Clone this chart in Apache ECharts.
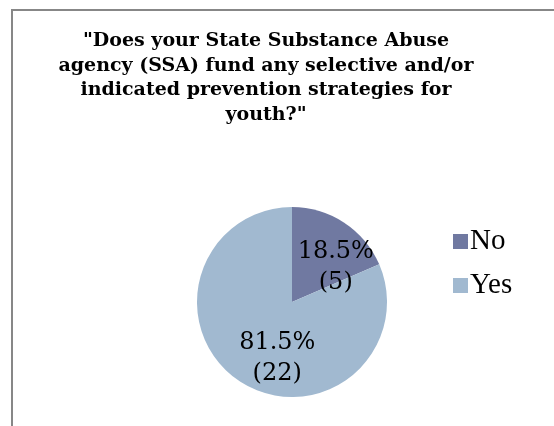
<!DOCTYPE html>
<html><head><meta charset="utf-8">
<script src="https://cdn.jsdelivr.net/npm/echarts@6/dist/echarts.min.js"></script>
<style>html,body{margin:0;padding:0;background:#fff}#c{width:554px;height:426px}</style>
</head><body><div id="c"></div>
<script>
var titleText = '"Does your State Substance Abuse\nagency (SSA) fund any selective and/or\nindicated prevention strategies for\nyouth?"';
var categories = ['No', 'Yes'];
var counts = [5, 22];
var percents = ['18.5%', '81.5%'];
var colors = ['#7079A1', '#A1B9D0'];
var labelOffsets = [[16, 7], [13, 14]];

var chart = echarts.init(document.getElementById('c'), null, {renderer: 'canvas'});
chart.setOption({
  animation: false,
  backgroundColor: '#fff',
  graphic: [{
    type: 'rect', shape: {x: 12, y: 10, width: 600, height: 500},
    style: {fill: 'none', stroke: '#878787', lineWidth: 2}, silent: true
  }],
  title: {
    text: titleText, left: 261, top: 24, textAlign: 'center',
    textStyle: {fontFamily: 'DejaVu Serif', fontWeight: 'bold', fontSize: 19, lineHeight: 24.5, color: '#000'}
  },
  legend: {
    orient: 'vertical', left: 448, top: 222, itemWidth: 15, itemHeight: 15, itemGap: 15,
    icon: 'rect', data: categories,
    textStyle: {fontFamily: 'Liberation Serif', fontSize: 29, lineHeight: 29, color: '#000', padding: [0, 0, 0, -3]}
  },
  series: [{
    type: 'pie', center: [292, 302], radius: 95, startAngle: 90, clockwise: true,
    data: categories.map(function (c, i) {
      return {name: c, value: counts[i], itemStyle: {color: colors[i]},
        label: {offset: labelOffsets[i]}};
    }),
    label: {
      position: 'inside', color: '#000', fontFamily: 'DejaVu Serif', fontSize: 24, lineHeight: 31,
      formatter: function (p) { return percents[p.dataIndex] + '\n(' + counts[p.dataIndex] + ')'; }
    },
    labelLine: {show: false},
    emphasis: {disabled: true}
  }]
});
</script></body></html>
